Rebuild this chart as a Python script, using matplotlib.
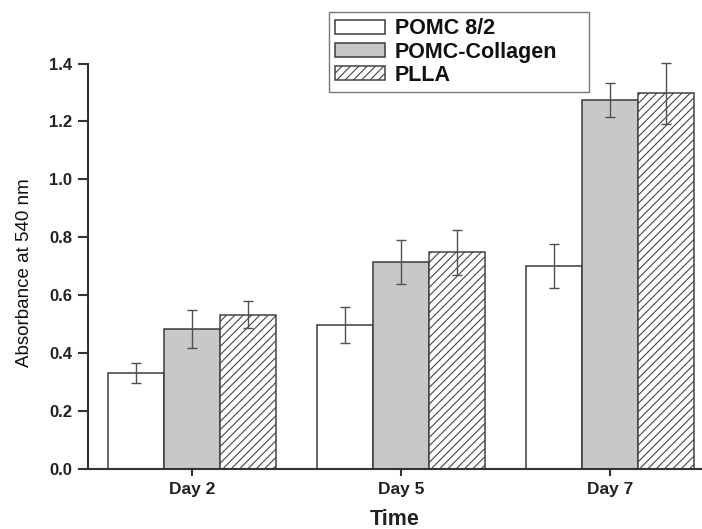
import numpy as np
import matplotlib.pyplot as plt

plt.rcParams['font.family'] = ['Liberation Sans', 'DejaVu Sans']
plt.rcParams['hatch.linewidth'] = 0.8

# data
days = ['Day 2', 'Day 5', 'Day 7']
series = ['POMC 8/2', 'POMC-Collagen', 'PLLA']
pomc = [0.333, 0.497, 0.702]
pomc_err = [0.034, 0.063, 0.076]
collagen = [0.483, 0.716, 1.275]
collagen_err = [0.066, 0.075, 0.059]
plla = [0.533, 0.749, 1.297]
plla_err = [0.046, 0.077, 0.105]

fig = plt.figure(figsize=(7.02, 5.29), dpi=100)
ax = fig.add_axes([0.1254, 0.1129, 0.8746, 0.767])

x = np.arange(len(days))
w = 0.267
edge = '#3a3a3a'
ekw = dict(ecolor='#505050', elinewidth=1.0, capsize=3.6, capthick=1.0, clip_on=False)

ax.bar(x - w, pomc, w, yerr=pomc_err, color='white', edgecolor=edge,
       linewidth=1.1, label=series[0], error_kw=ekw)
ax.bar(x, collagen, w, yerr=collagen_err, color='#c8c8c8', edgecolor=edge,
       linewidth=1.1, label=series[1], error_kw=ekw)
ax.bar(x + w, plla, w, yerr=plla_err, color='white', edgecolor='#444444',
       hatch='////', linewidth=1.1, label=series[2], error_kw=ekw)

ax.set_xlim(-0.496, 2.44)
ax.set_ylim(0, 1.4)
ax.set_yticks(np.arange(0, 1.41, 0.2))
ax.set_yticklabels([f'{v:.1f}' for v in np.arange(0, 1.41, 0.2)])
ax.set_xticks(x)
ax.set_xticklabels(days)

for s in ['top', 'right']:
    ax.spines[s].set_visible(False)
for s in ['left', 'bottom']:
    ax.spines[s].set_linewidth(1.5)
    ax.spines[s].set_color('#333333')

ax.tick_params(axis='y', direction='out', length=7, width=1.5, pad=4.5,
               labelsize=12, colors='#333333', labelcolor='#222222')
ax.tick_params(axis='x', direction='out', length=5, width=1.5, pad=4,
               labelsize=12.5, colors='#333333', labelcolor='#222222')
for lab in ax.get_xticklabels() + ax.get_yticklabels():
    lab.set_fontweight('bold')

ax.set_ylabel('Absorbance at 540 nm', fontsize=13.5, color='#111111')
ax.yaxis.set_label_coords(-0.09, 0.485)
ax.set_xlabel('Time', fontsize=15.5, fontweight='bold', color='#222222', labelpad=9)

# legend frame spans x 329..589 px, top at 12 px
leg = ax.legend(loc='upper left', bbox_to_anchor=(329 / 702, 0, 260 / 702, 1 - 12 / 529),
                bbox_transform=fig.transFigure, mode='expand', fancybox=False,
                edgecolor='#777777', framealpha=1, borderpad=0.3,
                handlelength=2.3, handleheight=0.6, handletextpad=0.45,
                labelspacing=0.1, borderaxespad=0,
                prop={'family': 'Liberation Sans', 'weight': 'bold', 'size': 15.5})
leg.get_frame().set_linewidth(1.0)
for t in leg.get_texts():
    t.set_color('#111111')

fig.savefig('out.png', dpi=100)
